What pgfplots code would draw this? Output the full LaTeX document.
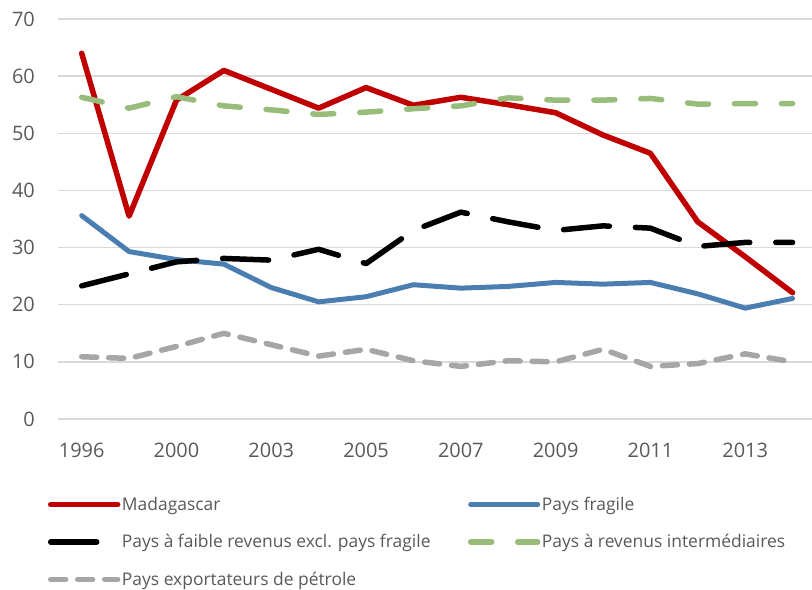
\documentclass[border=0pt]{standalone}
\usepackage{fontspec}
\setmainfont{Open Sans}
\usepackage{pgfplots}
\usepackage{pgfplotstable}
\pgfplotsset{compat=1.18}
\definecolor{cred}{HTML}{C00000}
\definecolor{cblue}{HTML}{4A7EB0}
\definecolor{cgreen}{HTML}{98BD7B}
\definecolor{cgray}{HTML}{A6A6A8}
\definecolor{ctext}{HTML}{595959}
\definecolor{cgrid}{HTML}{D9D9D9}
\newcommand\ls{\rule[-5bp]{0pt}{18bp}}

\pgfplotstableread{
x mad frag faible inter petrole
0 64.0 35.6 23.3 56.3 10.9
1 35.5 29.3 25.4 54.4 10.6
2 55.8 27.9 27.5 56.4 12.7
3 61.0 27.1 28.1 54.8 15.0
4 57.7 23.0 27.8 54.1 13.0
5 54.4 20.5 29.7 53.3 11.0
6 58.0 21.4 27.2 53.7 12.2
7 54.9 23.5 33.0 54.3 10.2
8 56.3 22.9 36.2 54.8 9.2
9 55.0 23.2 34.5 56.2 10.2
10 53.6 23.9 33.0 55.8 10.0
11 49.7 23.6 33.8 55.8 12.2
12 46.5 23.9 33.4 56.1 9.2
13 34.5 21.9 30.2 55.1 9.7
14 28.4 19.4 30.9 55.2 11.4
15 22.1 21.1 30.9 55.2 10.0
}\datatable

\begin{document}
\begin{tikzpicture}
\begin{axis}[
  at={(0,0)}, anchor=south west,
  scale only axis, width=754bp, height=400bp,
  xmin=-0.5, xmax=15.41, ymin=0, ymax=70,
  xtick={0,2,...,14},
  xticklabels={1996,2000,2003,2005,2007,2009,2011,2013},
  ytick={0,10,...,70},
  axis line style={draw=none},
  major tick length=0pt, tick style={draw=none},
  ymajorgrids, major grid style={cgrid, line width=1.5bp},
  /pgf/number format/assume math mode=true,
  ticklabel style={font=\fontsize{20}{24}\selectfont, text=ctext, inner sep=0pt},
  yticklabel style={xshift=-23bp},
  xticklabel style={yshift=-24bp, anchor=north},
  legend columns=2,
  legend cell align=left,
  legend style={draw=none, fill=none, at={(axis description cs:0,0)}, anchor=north west,
    xshift=-10.25bp, yshift=-78bp, inner sep=0pt,
    font=\fontsize{17.5}{20}\selectfont, text=ctext, row sep=22.5bp,
    nodes={inner sep=0pt},
    /tikz/every odd column/.append style={column sep=1.5bp}},
  legend image code/.code={\draw[#1, line cap=round] (0bp,0bp) -- (67bp,0bp);},
  every axis plot/.append style={line cap=round, line join=round},
]
\addplot[cred, line width=5.5bp] table[x=x, y=mad] {\datatable};
\addlegendentry{\makebox[346bp][l]{\ls Madagascar}}
\addplot[cblue, line width=5bp] table[x=x, y=frag] {\datatable};
\addlegendentry{\ls Pays fragile}
\addplot[black, line width=5.5bp, dash pattern=on 46bp off 26bp] table[x=x, y=faible] {\datatable};
\addlegendentry{\makebox[346bp][l]{\ls Pays à faible revenus excl. pays fragile}}
\addplot[cgreen, line width=5.5bp, dash pattern=on 21bp off 26bp] table[x=x, y=inter] {\datatable};
\addlegendentry{\ls Pays à revenus intermédiaires}
\addplot[cgray, line width=5.5bp, dash pattern=on 15bp off 12bp] table[x=x, y=petrole] {\datatable};
\addlegendentry{\makebox[346bp][l]{\ls Pays exportateurs de pétrole}}
\end{axis}
\pgfresetboundingbox
\path[use as bounding box] (-58bp,-171bp) rectangle (754bp,419bp);
\end{tikzpicture}
\end{document}
